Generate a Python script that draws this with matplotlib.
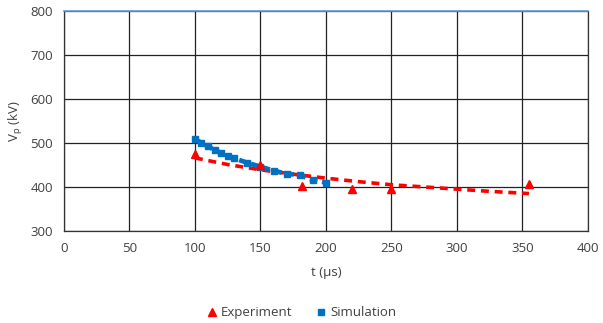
import matplotlib.pyplot as plt

# experiment points
exp_t = [100, 150, 182, 220, 250, 355]
exp_v = [475, 451, 402, 395, 395, 406]

# simulation points
sim_t = [100, 105, 110, 115, 120, 125, 130, 140, 150, 160, 170, 180, 190, 200]
sim_v = [509, 500, 492, 484, 477, 471, 465, 455, 446, 437, 430, 427, 416, 410]

# dashed trend line through the experiment
fit_t = [100, 125, 150, 175, 200, 225, 250, 275, 300, 325, 355]
fit_v = [466, 451, 439, 429, 420, 412, 405, 400, 395, 390, 385]

plt.rcParams['font.family'] = ['Open Sans', 'DejaVu Sans']

fig = plt.figure(figsize=(6.03, 3.23), dpi=100)
ax = fig.add_axes([0.106, 0.285, 0.869, 0.681])

ax.plot(fit_t, fit_v, color='#ff0000', lw=2.6, ls=(0, (2.2, 1.6)), zorder=3)
ax.plot(sim_t, sim_v, color='#0070c0', lw=3.4, ls=(0, (1.6, 1.0)), zorder=4)
ax.plot(sim_t, sim_v, 's', color='#0070c0', ms=4, zorder=5, label='Simulation')
ax.plot(exp_t, exp_v, '^', color='#ff0000', ms=5.5, zorder=6, label='Experiment')

ax.set_xlim(0, 400)
ax.set_ylim(300, 800)
ax.set_xticks(range(0, 401, 50))
ax.set_yticks(range(300, 801, 100))
ax.grid(True, color='#222222', lw=0.9)
ax.tick_params(length=0, labelsize=9.5, colors='#404040', pad=8)
for s in ['left', 'right', 'bottom']:
    ax.spines[s].set_color('#333333')
    ax.spines[s].set_linewidth(0.9)
ax.spines['top'].set_color('#5b9bd5')
ax.spines['top'].set_linewidth(1.2)

ax.set_xlabel('t (µs)', fontsize=9.5, color='#404040', labelpad=8)
ax.set_ylabel('V$_\\mathregular{p}$ (kV)', fontsize=9.5, color='#404040', labelpad=4)

h, l = ax.get_legend_handles_labels()
fig.legend(h[::-1], l[::-1], loc='lower center', bbox_to_anchor=(0.5, -0.025), ncol=2,
           frameon=False, fontsize=9.5, handlelength=0.8, handletextpad=0.3,
           columnspacing=1.8, labelcolor='#404040')

fig.savefig('out.png', dpi=100)
